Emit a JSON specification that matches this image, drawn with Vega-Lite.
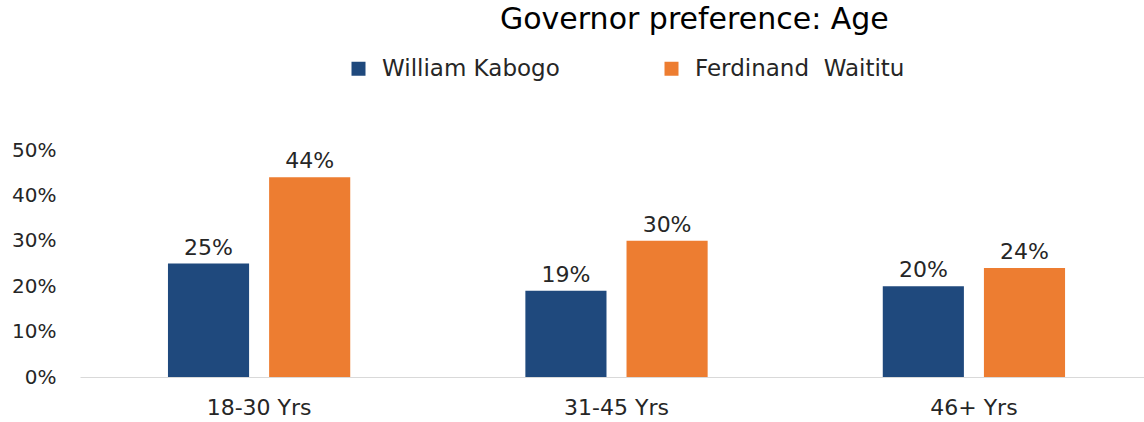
{
  "$schema": "https://vega.github.io/schema/vega-lite/v6.json",
  "width": 1064,
  "height": 227,
  "autosize": {"type": "none"},
  "padding": {"left": 80, "top": 150, "right": 0, "bottom": 45},
  "background": "white",
  "config": {"view": {"stroke": null}, "font": "DejaVu Sans"},
  "title": {
    "text": "Governor preference: Age",
    "anchor": "start",
    "frame": "group",
    "dx": 420,
    "offset": -2,
    "baseline": "alphabetic",
    "fontSize": 30,
    "font": "DejaVu Sans",
    "fontWeight": "normal",
    "color": "#000000"
  },
  "data": {
    "values": [
      {"age": "18-30 Yrs", "candidate": "William Kabogo", "share": 0.25},
      {"age": "18-30 Yrs", "candidate": "Ferdinand  Waititu", "share": 0.44},
      {"age": "31-45 Yrs", "candidate": "William Kabogo", "share": 0.19},
      {"age": "31-45 Yrs", "candidate": "Ferdinand  Waititu", "share": 0.30},
      {"age": "46+ Yrs", "candidate": "William Kabogo", "share": 0.20},
      {"age": "46+ Yrs", "candidate": "Ferdinand  Waititu", "share": 0.24}
    ]
  },
  "encoding": {
    "x": {
      "field": "age",
      "type": "nominal",
      "sort": ["18-30 Yrs", "31-45 Yrs", "46+ Yrs"],
      "scale": {"paddingInner": 0.49, "paddingOuter": 0.2335, "align": 0.527},
      "axis": {
        "title": null,
        "ticks": false,
        "domainColor": "#d9d9d9",
        "domainWidth": 1,
        "labelFontSize": 22,
        "labelPadding": 20,
        "labelColor": "#262626",
        "labelAngle": 0,
        "labelFont": "DejaVu Sans"
      }
    },
    "xOffset": {
      "field": "candidate",
      "type": "nominal",
      "sort": ["William Kabogo", "Ferdinand  Waititu"],
      "scale": {"paddingInner": 0.198, "paddingOuter": 0}
    },
    "y": {
      "field": "share",
      "type": "quantitative",
      "scale": {"domain": [0, 0.5]},
      "axis": {
        "title": null,
        "values": [0, 0.1, 0.2, 0.3, 0.4, 0.5],
        "format": ".0%",
        "domain": false,
        "ticks": false,
        "grid": false,
        "labelFontSize": 20,
        "labelPadding": 24,
        "labelColor": "#262626",
        "labelFont": "DejaVu Sans"
      }
    }
  },
  "layer": [
    {
      "mark": {"type": "bar"},
      "encoding": {
        "color": {
          "field": "candidate",
          "type": "nominal",
          "sort": ["William Kabogo", "Ferdinand  Waititu"],
          "scale": {"domain": ["William Kabogo", "Ferdinand  Waititu"], "range": ["#1f497d", "#ed7d31"]},
          "legend": {
            "title": null,
            "orient": "none",
            "legendX": 267,
            "legendY": -93,
            "direction": "horizontal",
            "symbolType": "square",
            "symbolSize": 196,
            "symbolStrokeWidth": 0,
            "labelFontSize": 23,
            "labelOffset": 12,
            "labelColor": "#262626",
            "labelFont": "DejaVu Sans",
            "labelExpr": "replace(datum.label, '  ', '\u00a0 ')",
            "columnPadding": 100,
            "labelLimit": 400
          }
        }
      }
    },
    {
      "mark": {"type": "text", "baseline": "alphabetic", "dy": -9, "fontSize": 22, "color": "#262626", "font": "DejaVu Sans"},
      "encoding": {
        "text": {"field": "share", "type": "quantitative", "format": ".0%"}
      }
    }
  ]
}
